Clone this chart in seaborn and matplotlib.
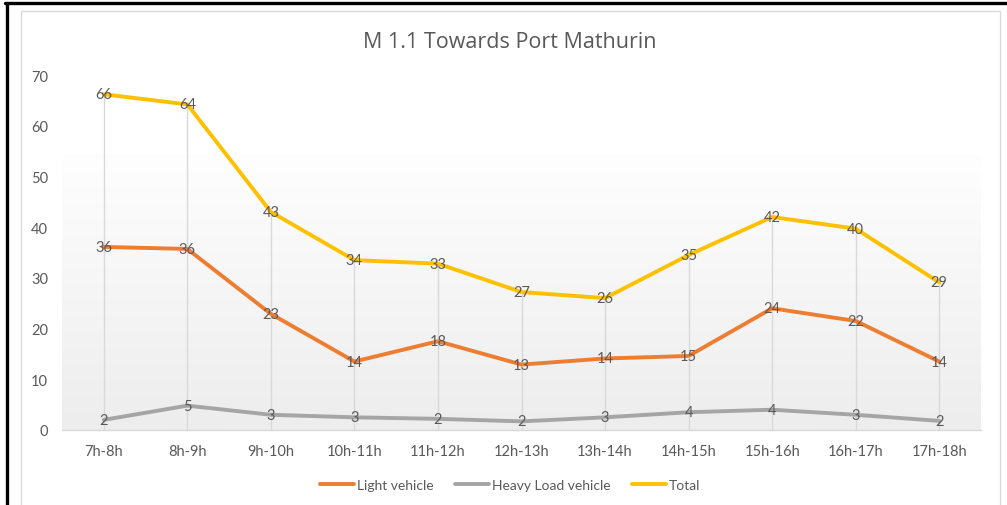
import numpy as np
import pandas as pd
import matplotlib
matplotlib.use("Agg")
import matplotlib.pyplot as plt
from matplotlib.patches import Rectangle
from matplotlib.lines import Line2D
import seaborn as sns

# Hourly vehicle counts, M 1.1 towards Port Mathurin
periods = ["7h-8h", "8h-9h", "9h-10h", "10h-11h", "11h-12h", "12h-13h",
           "13h-14h", "14h-15h", "15h-16h", "16h-17h", "17h-18h"]
light_vehicle = [36.1, 35.7, 22.9, 13.5, 17.5, 12.9, 14.1, 14.6, 24.0, 21.5, 13.5]
heavy_vehicle = [2.0, 4.8, 3.0, 2.5, 2.2, 1.7, 2.5, 3.5, 4.0, 3.0, 1.8]
total = [66.2, 64.2, 43.0, 33.5, 32.8, 27.2, 26.0, 34.5, 42.0, 39.7, 29.1]

series_names = ["Light vehicle", "Heavy Load vehicle", "Total"]
series_values = [light_vehicle, heavy_vehicle, total]
series_colors = ["#ED7D31", "#A5A5A5", "#FFC000"]
y_ticks = [0, 10, 20, 30, 40, 50, 60, 70]

df = pd.DataFrame({
    "period": np.tile(periods, len(series_names)),
    "series": np.repeat(series_names, len(periods)),
    "count": np.concatenate(series_values),
})

sns.set_theme(style="white")
plt.rcParams["font.family"] = ["Lato", "DejaVu Sans"]

W, H = 1007, 506
fig = plt.figure(figsize=(W / 100, H / 100), dpi=100)
fig.patch.set_facecolor("white")

def px(x, y):
    return x / W, 1 - y / H

# chart frame and outer border
fig.add_artist(Rectangle(px(21, 520), 979 / W, 508 / H, transform=fig.transFigure,
                         facecolor="none", edgecolor="#d9d9d9", lw=1.0, zorder=0))
fig.add_artist(Line2D([5 / W, 1], [1 - 4 / H, 1 - 4 / H], transform=fig.transFigure,
                      color="black", lw=2.4))
fig.add_artist(Line2D([6.5 / W, 6.5 / W], [0, 1 - 4 / H], transform=fig.transFigure,
                      color="black", lw=2.4))

left, right, top, bottom = 62, 981, 76, 431
ax = fig.add_axes([left / W, 1 - bottom / H, (right - left) / W, (bottom - top) / H])
ax.set_facecolor("none")

sns.lineplot(data=df, x="period", y="count", hue="series", hue_order=series_names,
             palette=series_colors, sort=False, lw=2.8, ax=ax, legend=False, zorder=3)

n = len(periods)
ax.set_xlim(-0.5, n - 0.5)
ax.set_ylim(0, 70)

# plot-area gradient
grad = np.linspace(0, 1, 256).reshape(-1, 1)
cmap = matplotlib.colors.LinearSegmentedColormap.from_list("bg", ["#fefefe", "#ededed"])
ax.imshow(grad, extent=[-0.5, n - 0.5, 0, 54.3], aspect="auto", cmap=cmap,
          zorder=0, origin="upper")

# drop lines from the highest series
peak = np.max(np.array(series_values), axis=0)
ax.vlines(np.arange(n), 0, peak, colors="#d9d9d9", lw=1.0, zorder=1)

# data labels
for vals in series_values:
    for i, v in enumerate(vals):
        ax.text(i, v, f"{int(np.floor(v + 0.5))}", ha="center", va="center",
                fontsize=10.5, color="#595959", zorder=5)

ax.set_yticks(y_ticks)
ax.set_xticks(range(n))
ax.set_xticklabels(periods)
ax.tick_params(axis="both", length=0, labelsize=10.5, labelcolor="#595959")
ax.tick_params(axis="y", pad=10)
ax.tick_params(axis="x", pad=10)
ax.set_xlabel("")
ax.set_ylabel("")
for s in ["left", "right", "top"]:
    ax.spines[s].set_visible(False)
ax.spines["bottom"].set_color("#d9d9d9")
ax.spines["bottom"].set_linewidth(1.0)
ax.grid(False)

fig.text(510 / W, 1 - 42 / H, "M 1.1 Towards Port Mathurin", ha="center", va="center",
         fontsize=15.5, color="#595959", family=["Open Sans", "DejaVu Sans"])

handles = [Line2D([], [], color=c, lw=2.8) for c in series_colors]
fig.legend(handles, series_names, loc="center", bbox_to_anchor=px(510, 486), ncol=3,
           frameon=False, fontsize=10, labelcolor="#595959", handlelength=2.5,
           handletextpad=0.2, columnspacing=1.5)

fig.savefig("out.png", dpi=100, facecolor="white")
